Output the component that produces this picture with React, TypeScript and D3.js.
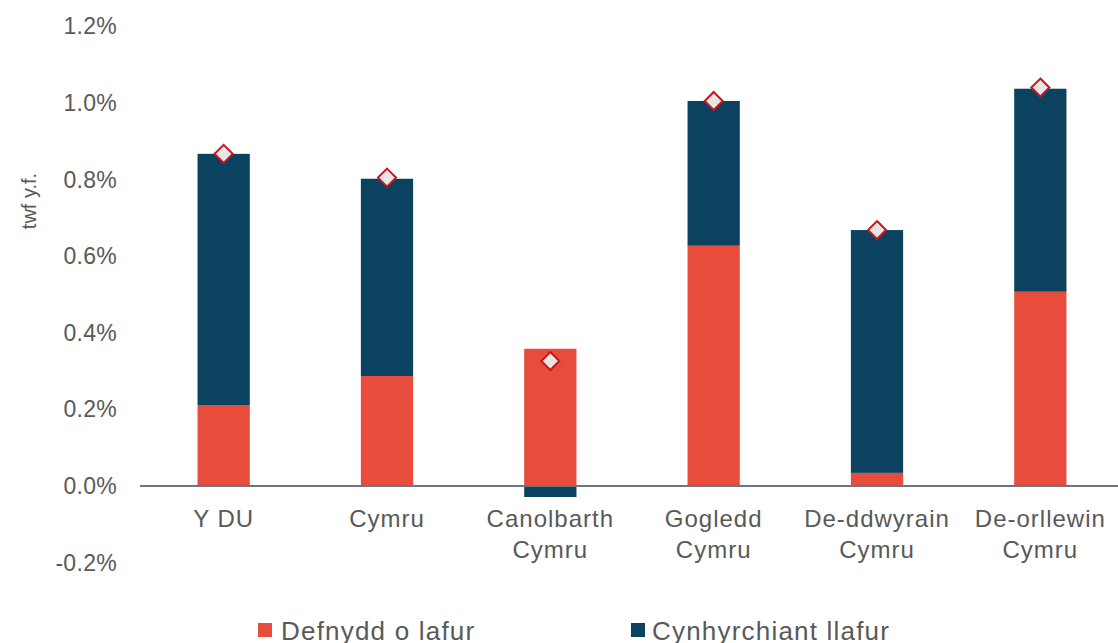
import React from "react";
import * as d3 from "d3";

const categories = [["Y DU"], ["Cymru"], ["Canolbarth", "Cymru"], ["Gogledd", "Cymru"], ["De-ddwyrain", "Cymru"], ["De-orllewin", "Cymru"]];
const labourInput = [0.211, 0.287, 0.358, 0.627, 0.034, 0.507];
const productivity = [0.656, 0.515, -0.029, 0.378, 0.634, 0.530];
const totalGrowth = [0.867, 0.805, 0.326, 1.005, 0.668, 1.04];
const yTicks = [-0.2, 0, 0.2, 0.4, 0.6, 0.8, 1.0, 1.2];
const seriesNames = ["Defnydd o lafur", "Cynhyrchiant llafur"];

const RED = "#E84C3D";
const BLUE = "#0B4260";
const TEXT = "#595959";
const FONT = "'Liberation Sans', Arial, sans-serif";

export default function App() {
  const W = 1118, H = 643;
  const x = d3.scaleBand<number>().domain(d3.range(categories.length)).range([142, 1122]).paddingInner(0.68).paddingOuter(0.34);
  const y = d3.scaleLinear().domain([-0.2, 1.2]).range([562.5, 26.3]);
  const bw = x.bandwidth();
  return (
    <svg width={W} height={H} style={{ position: "absolute", left: 0, top: 0 }} fontFamily={FONT}>
      {yTicks.map((t) => (
        <text key={t} x={117} y={y(t)} dy="0.35em" textAnchor="end" fontSize={23} letterSpacing={0.3} fill={TEXT}>
          {t.toFixed(1) + "%"}
        </text>
      ))}
      <text transform={`translate(36,201) rotate(-90)`} textAnchor="middle" fontSize={20} fill={TEXT}>twf y.f.</text>
      {categories.map((c, i) => {
        const x0 = x(i)!;
        const r = labourInput[i];
        const p = productivity[i];
        const redTop = y(Math.max(r, 0));
        const redBot = y(Math.min(r, 0));
        let blueY0: number, blueY1: number;
        if (p >= 0) { blueY0 = y(Math.max(r, 0) + p); blueY1 = y(Math.max(r, 0)); }
        else { blueY0 = y(Math.min(r, 0)); blueY1 = y(Math.min(r, 0) + p); }
        return (
          <g key={i}>
            <rect x={x0} y={redTop} width={bw} height={redBot - redTop} fill={RED} />
            <rect x={x0} y={blueY0} width={bw} height={blueY1 - blueY0} fill={BLUE} />
          </g>
        );
      })}
      <line x1={140} x2={1118} y1={y(0)} y2={y(0)} stroke="#6b7680" strokeWidth={2} />
      {totalGrowth.map((v, i) => {
        const cx = x(i)! + bw / 2;
        const cy = y(v);
        const s = 9;
        return (
          <path key={i} d={`M${cx},${cy - s}L${cx + s},${cy}L${cx},${cy + s}L${cx - s},${cy}Z`} fill="#E6E6E6" stroke="#C8161D" strokeWidth={2} />
        );
      })}
      {categories.map((c, i) => (
        <text key={i} x={x(i)! + bw / 2} textAnchor="middle" fontSize={24} letterSpacing={1} fill={TEXT}>
          {c.map((line, j) => (
            <tspan key={j} x={x(i)! + bw / 2} y={527 + j * 31}>{line}</tspan>
          ))}
        </text>
      ))}
      <g>
        <rect x={258} y={623} width={14} height={14} fill={RED} />
        <text x={281} y={640} fontSize={26} letterSpacing={1.2} fill={TEXT}>{seriesNames[0]}</text>
        <rect x={631} y={623} width={14} height={14} fill={BLUE} />
        <text x={652} y={640} fontSize={26} letterSpacing={1.2} fill={TEXT}>{seriesNames[1]}</text>
      </g>
    </svg>
  );
}
